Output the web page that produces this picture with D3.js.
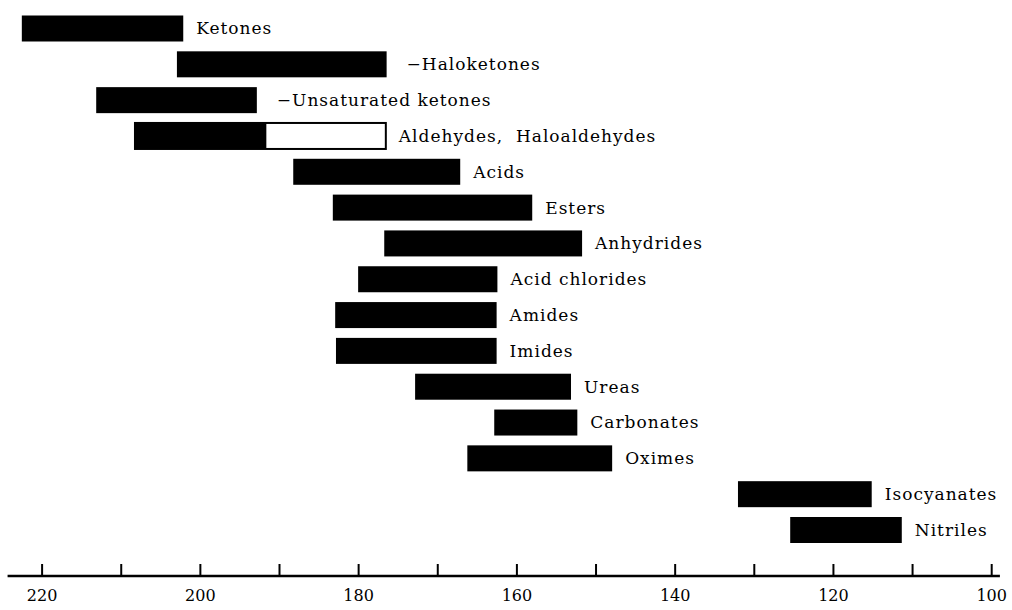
<!DOCTYPE html>
<html>
<head>
<meta charset="utf-8">
<script src="https://cdn.jsdelivr.net/npm/d3@7"></script>
<style>
  body { margin: 0; background: #fff; }
  text { font-family: "DejaVu Serif", "Liberation Serif", serif; fill: #000; }
</style>
</head>
<body>
<div id="chart"></div>
<script>
// carbonyl / related groups, ranges
const groups = [
    "Ketones", "−Haloketones", "−Unsaturated ketones", "Aldehydes,  Haloaldehydes",
    "Acids", "Esters", "Anhydrides", "Acid chlorides", "Amides", "Imides",
    "Ureas", "Carbonates", "Oximes", "Isocyanates", "Nitriles"
];
const rangeHigh = [222.5, 202.9, 213.1, 208.2, 188.2, 183.2, 176.7, 180.0, 182.9, 182.8, 172.8, 162.8, 166.2, 132.0, 125.4];
const rangeLow  = [202.1, 176.4, 192.8, 176.5, 167.1, 158.0, 151.7, 162.4, 162.5, 162.5, 153.1, 152.3, 147.9, 115.1, 111.3];
// aldehydes: only the upper part is solid, the rest is an open box
const solidLow  = [null, null, null, 191.6, null, null, null, null, null, null, null, null, null, null, null];
const tickValues = [220, 210, 200, 190, 180, 170, 160, 150, 140, 130, 120, 110, 100];
const tickLabels = ["220", "", "200", "", "180", "", "160", "", "140", "", "120", "", "100"];

const width = 1012, height = 610;
const axisY = 576;

const svg = d3.select("#chart")
    .append("svg")
    .attr("width", width)
    .attr("height", height);

const x = d3.scaleLinear()
    .domain([220, 100])
    .range([41.6, 991.2]);

const y = d3.scalePoint()
    .domain(groups)
    .range([28.5, 530]);

const barH = 26;

const rows = groups.map((g, i) => ({
    name: g, hi: rangeHigh[i], lo: rangeLow[i], solid: solidLow[i]
}));

const g = svg.append("g");

// open part (drawn under the solid bar)
g.selectAll("rect.open")
    .data(rows.filter(d => d.solid != null))
    .join("rect")
    .attr("class", "open")
    .attr("x", d => x(d.hi))
    .attr("y", d => y(d.name) - barH / 2)
    .attr("width", d => x(d.lo) - x(d.hi))
    .attr("height", barH)
    .attr("fill", "#fff")
    .attr("stroke", "#000")
    .attr("stroke-width", 2);

g.selectAll("rect.bar")
    .data(rows)
    .join("rect")
    .attr("class", "bar")
    .attr("x", d => x(d.hi))
    .attr("y", d => y(d.name) - barH / 2)
    .attr("width", d => x(d.solid != null ? d.solid : d.lo) - x(d.hi))
    .attr("height", barH)
    .attr("fill", "#000");

g.selectAll("text.label")
    .data(rows)
    .join("text")
    .attr("class", "label")
    .attr("x", d => x(d.lo) + (d.name.startsWith("−") ? 20 : 13))
    .attr("y", d => y(d.name))
    .attr("dy", "0.35em")
    .style("font-size", "17px")
    .style("letter-spacing", "1px")
    .style("white-space", "pre")
    .text(d => d.name);

// axis
const axis = d3.axisBottom(x)
    .tickValues(tickValues)
    .tickFormat((d, i) => tickLabels[i])
    .tickSize(0)
    .tickPadding(14);

const ax = svg.append("g")
    .attr("transform", `translate(0,${axisY})`)
    .call(axis);

ax.select(".domain").remove();
ax.append("line")
    .attr("x1", x(224.3))
    .attr("x2", x(98.9))
    .attr("stroke", "#000")
    .attr("stroke-width", 2.5);

ax.selectAll(".tick line")
    .attr("y1", 0)
    .attr("y2", -12)
    .attr("stroke", "#000")
    .attr("stroke-width", 2);

ax.selectAll(".tick text")
    .attr("fill", "#000")
    .style("font-family", "'DejaVu Serif', serif")
    .style("font-size", "16px");
</script>
</body>
</html>
